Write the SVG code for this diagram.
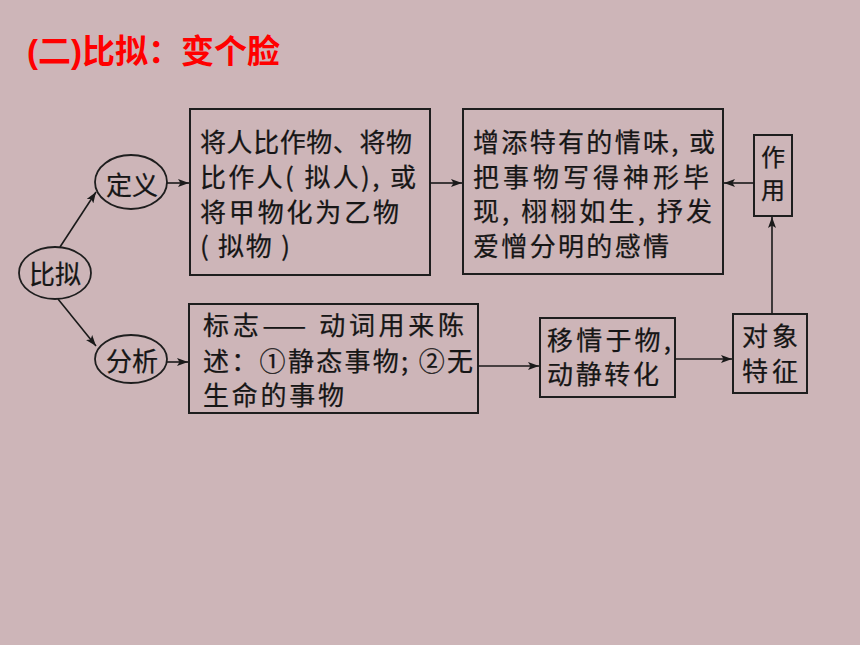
<svg xmlns="http://www.w3.org/2000/svg" width="860" height="645" viewBox="0 0 860 645">
  <defs>
    <marker id="arr" markerUnits="userSpaceOnUse" markerWidth="11" markerHeight="8" refX="11" refY="4" orient="auto">
      <path d="M0,0 L11,4 L0,8 L2.5,4 z" fill="#1a1a1a"/>
    </marker>
    <style>
      .bg { fill: #cdb5b8; }
      .box { fill: none; stroke: #1e1e1e; stroke-width: 2; }
      .ell { fill: none; stroke: #1e1e1e; stroke-width: 1.8; }
      .t { font-family: "Noto Sans CJK SC", "Liberation Serif", sans-serif; font-size: 26px; fill: #161616; stroke: #161616; stroke-width: 0.25; }
      .s { font-size: 24px; }
      .c { text-anchor: middle; }
      .title { font-family: "Liberation Sans", "Noto Sans CJK SC", sans-serif; font-size: 33px; font-weight: bold; fill: #ff0000; }
      .conn line { stroke: #1a1a1a; stroke-width: 1.6; marker-end: url(#arr); }
    </style>
  </defs>

  <rect class="bg" x="0" y="0" width="860" height="645"/>

  <text class="title" x="27" y="63">(二)比拟：变个脸</text>

  <g id="node-biniu">
    <ellipse class="ell" cx="55" cy="273" rx="36" ry="26"/>
    <text class="t c" x="55" y="284">比拟</text>
  </g>

  <g id="node-dingyi">
    <ellipse class="ell" cx="131" cy="182" rx="36" ry="27"/>
    <text class="t c" x="132" y="195">定义</text>
  </g>

  <g id="node-fenxi">
    <ellipse class="ell" cx="131" cy="359" rx="36" ry="24"/>
    <text class="t c" x="132" y="371">分析</text>
  </g>

  <g id="node-def">
    <rect class="box" x="190" y="109" width="240" height="166"/>
    <text class="t" x="200" y="152" textLength="212" lengthAdjust="spacing">将人比作物、将物</text>
    <text class="t" x="200" y="187" textLength="216" lengthAdjust="spacing">比作人( 拟人), 或</text>
    <text class="t" x="200" y="222" textLength="199" lengthAdjust="spacing">将甲物化为乙物</text>
    <text class="t" x="200" y="256" textLength="90" lengthAdjust="spacing">( 拟物 )</text>
  </g>

  <g id="node-effect">
    <rect class="box" x="463" y="109" width="260" height="165"/>
    <text class="t" x="473" y="152" textLength="242" lengthAdjust="spacing">增添特有的情味, 或</text>
    <text class="t" x="473" y="187" textLength="236" lengthAdjust="spacing">把事物写得神形毕</text>
    <text class="t" x="473" y="221" textLength="239" lengthAdjust="spacing">现, 栩栩如生, 抒发</text>
    <text class="t" x="473" y="256" textLength="196" lengthAdjust="spacing">爱憎分明的感情</text>
  </g>

  <g id="node-zuoyong">
    <rect class="box" x="754" y="135" width="38" height="81"/>
    <text class="t s c" x="773" y="166">作</text>
    <text class="t s c" x="773" y="199">用</text>
  </g>

  <g id="node-sign">
    <rect class="box" x="189" y="304" width="289" height="109"/>
    <text class="t" x="203" y="335" textLength="261" lengthAdjust="spacing">标志—— 动词用来陈</text>
    <text class="t" x="203" y="371" textLength="270" lengthAdjust="spacing">述：①静态事物; ②无</text>
    <text class="t" x="203" y="405" textLength="141" lengthAdjust="spacing">生命的事物</text>
  </g>

  <g id="node-yiqing">
    <rect class="box" x="540" y="318" width="135" height="79"/>
    <text class="t" x="547" y="350" textLength="124" lengthAdjust="spacing">移情于物,</text>
    <text class="t" x="547" y="384" textLength="112" lengthAdjust="spacing">动静转化</text>
  </g>

  <g id="node-duixiang">
    <rect class="box" x="733" y="314" width="74" height="79"/>
    <text class="t" x="742" y="346" textLength="56" lengthAdjust="spacing">对象</text>
    <text class="t" x="742" y="381" textLength="56" lengthAdjust="spacing">特征</text>
  </g>

  <g class="conn" id="connectors">
    <line x1="60" y1="247" x2="96" y2="192"/>
    <line x1="58" y1="299" x2="96" y2="346"/>
    <line x1="167" y1="183" x2="189" y2="183"/>
    <line x1="167" y1="362" x2="188" y2="362"/>
    <line x1="430" y1="183" x2="462" y2="183"/>
    <line x1="754" y1="183" x2="724" y2="183"/>
    <line x1="772" y1="314" x2="772" y2="217"/>
    <line x1="478" y1="366" x2="539" y2="366"/>
    <line x1="675" y1="359" x2="732" y2="359"/>
  </g>
</svg>
